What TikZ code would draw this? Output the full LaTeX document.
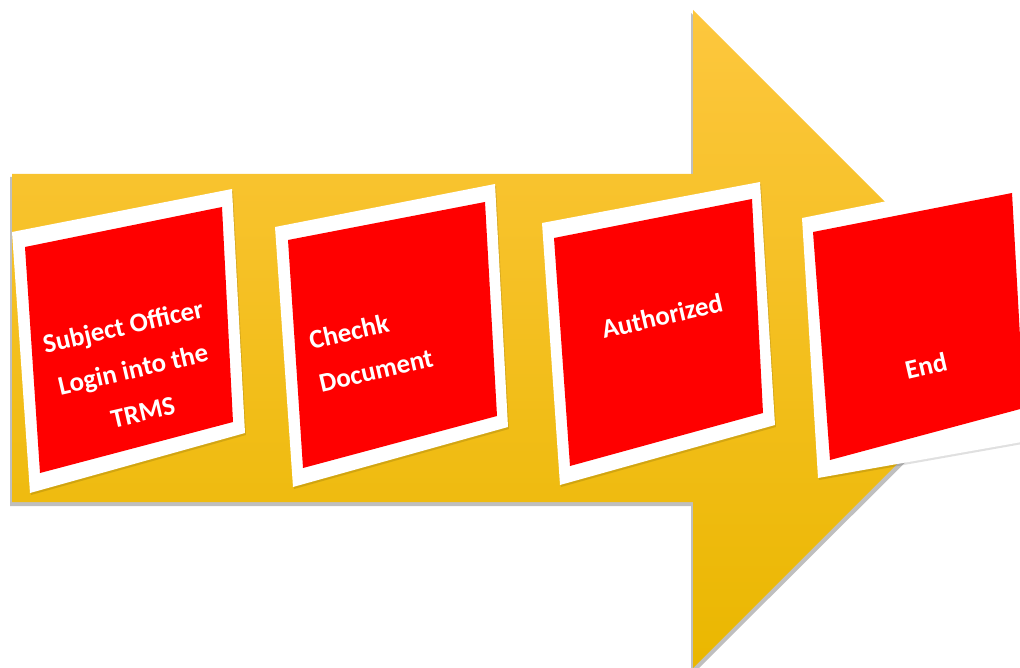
\documentclass[tikz,border=0pt]{standalone}
\usepackage{fontspec}
\setmainfont{Carlito}
\definecolor{yellowtop}{HTML}{FDC73E}
\definecolor{yellowmid}{HTML}{FFC608}
\definecolor{yellowbot}{HTML}{EAB700}
\definecolor{cardred}{HTML}{FF0000}
\begin{document}
\begin{tikzpicture}[x=0.02cm,y=-0.02cm,
  arrowfill/.style={top color=yellowtop, middle color=yellowmid, bottom color=yellowbot},
  shade/.style={fill=black, opacity=0.25},
  cardshade/.style={fill=black, opacity=0.12},
  frame/.style={fill=white},
  card/.style={fill=cardred},
  lbl/.style={text=white, font=\bfseries\fontsize{15.3}{25}\selectfont, rotate=13, inner sep=0pt}]
\useasboundingbox (0,0) rectangle (1020,668);
\clip (0,0) rectangle (1020,668);
% big arrow with shadow
\fill[shade] (10,177) -- (691,177) -- (691,13) -- (1024,344) -- (691,676) -- (691,506) -- (10,506) -- cycle;
\path[arrowfill] (12,174) -- (693,174) -- (693,10) -- (1022,339) -- (693,668) -- (693,502) -- (12,502) -- cycle;
% card 1
\fill[cardshade] (13,234) -- (233,191) -- (246,435) -- (31,495) -- cycle;
\fill[frame] (12,232) -- (232,189) -- (245,433) -- (30,493) -- cycle;
\fill[card] (25,247) -- (222,207) -- (233,422) -- (40,473) -- cycle;
\node[lbl, align=center] (t1) at (133,369) {Subject Officer\\Login into the\\TRMS};
% card 2
\fill[cardshade] (276,229) -- (496,186) -- (509,429) -- (294,489) -- cycle;
\fill[frame] (275,227) -- (495,184) -- (508,427) -- (293,487) -- cycle;
\fill[card] (288,240) -- (485,202) -- (497,416) -- (303,468) -- cycle;
\node[lbl, align=left] (t2) at (371,349) {Chechk\\Document};
% card 3
\fill[cardshade] (543,225) -- (761,184) -- (776,427) -- (561,487) -- cycle;
\fill[frame] (542,223) -- (760,182) -- (775,425) -- (560,485) -- cycle;
\fill[card] (554,238) -- (752,199) -- (763,413) -- (570,466) -- cycle;
\node[lbl] (t3) at (662,316) {Authorized};
% card 4
\fill[cardshade] (803,220) -- (1039,173) -- (1051,439) -- (819,480) -- cycle;
\fill[frame] (802,218) -- (1038,171) -- (1050,437) -- (818,478) -- cycle;
\fill[card] (813,232) -- (1012,193) -- (1024,408) -- (830,460) -- cycle;
\node[lbl] (t4) at (926,366) {End};
\end{tikzpicture}
\end{document}
